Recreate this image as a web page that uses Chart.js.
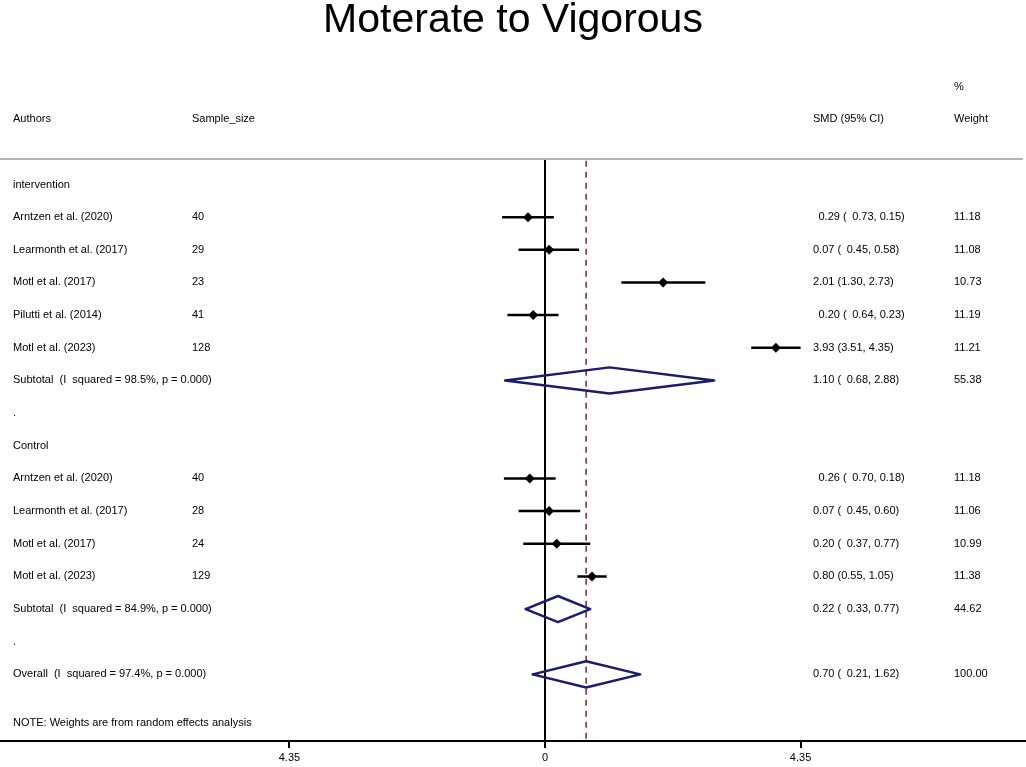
<!DOCTYPE html>
<html>
<head>
<meta charset="utf-8">
<script src="https://cdn.jsdelivr.net/npm/chart.js@4.4.1/dist/chart.umd.min.js"></script>
<style>
    html, body { margin: 0; padding: 0; background: #fff; }
    canvas { display: block; }
</style>
</head>
<body>
<canvas id="forestChart" width="1026" height="767"></canvas>
<script>
// rows of the forest plot, top to bottom (row index = position on the y scale)
const rowLabels = [
    'intervention',
    'Arntzen et al. (2020)',
    'Learmonth et al. (2017)',
    'Motl et al. (2017)',
    'Pilutti et al. (2014)',
    'Motl et al. (2023)',
    'Subtotal  (I  squared = 98.5%, p = 0.000)',
    '.',
    'Control',
    'Arntzen et al. (2020)',
    'Learmonth et al. (2017)',
    'Motl et al. (2017)',
    'Motl et al. (2023)',
    'Subtotal  (I  squared = 84.9%, p = 0.000)',
    '.',
    'Overall  (I  squared = 97.4%, p = 0.000)'
];
const rowTypes = ['head', 'study', 'study', 'study', 'study', 'study', 'pooled', 'blank',
    'head', 'study', 'study', 'study', 'study', 'pooled', 'blank', 'pooled'];
const sampleSizes = ['', '40', '29', '23', '41', '128', '', '', '', '40', '28', '24', '129', '', '', ''];
const smd = [null, -0.29, 0.07, 2.01, -0.20, 3.93, 1.10, null, null, -0.26, 0.07, 0.20, 0.80, 0.22, null, 0.70];
const ciLow = [null, -0.73, -0.45, 1.30, -0.64, 3.51, -0.68, null, null, -0.70, -0.45, -0.37, 0.55, -0.33, null, -0.21];
const ciHigh = [null, 0.15, 0.58, 2.73, 0.23, 4.35, 2.88, null, null, 0.18, 0.60, 0.77, 1.05, 0.77, null, 1.62];
const weights = [null, 11.18, 11.08, 10.73, 11.19, 11.21, 55.38, null, null, 11.18, 11.06, 10.99, 11.38, 44.62, null, 100.00];

const titleText = 'Moterate to Vigorous';
const noteText = 'NOTE: Weights are from random effects analysis';
const xTicks = [-4.35, 0, 4.35];
const xTickLabels = ['4.35', '0', '4.35'];
const overallSmd = 0.70;

// scale limits
const xMin = -9.277, xMax = 8.187;
const yMin = -0.78, yMax = 17.04;

const FONT = '"Liberation Sans", Arial, Helvetica, sans-serif';

// the original output lost its minus glyphs, leaving a blank in their place
function fmt(v) {
    return (v < 0 ? '\u2002' : '') + Math.abs(v).toFixed(2);
}

// points for study markers, CI segments and pooled diamonds
const markerPoints = [];
const ciSegments = [];
const diamondPoints = [];
rowTypes.forEach((t, r) => {
    if (t === 'study') {
        markerPoints.push({x: smd[r], y: r});
        ciSegments.push({x: ciLow[r], y: r}, {x: ciHigh[r], y: r}, {x: null, y: null});
    }
    if (t === 'pooled') {
        diamondPoints.push(
            {x: ciLow[r], y: r},
            {x: smd[r], y: r - 0.4},
            {x: ciHigh[r], y: r},
            {x: smd[r], y: r + 0.4},
            {x: ciLow[r], y: r},
            {x: null, y: null}
        );
    }
});

// texte et lignes du tableau
const tablePlugin = {
    id: 'forestTable',
    afterDraw(chart) {
        const ctx = chart.ctx;
        const yScale = chart.scales.y;
        const area = chart.chartArea;
        ctx.save();

        // title
        ctx.fillStyle = '#000';
        ctx.font = '41px ' + FONT;
        ctx.textAlign = 'center';
        ctx.textBaseline = 'alphabetic';
        ctx.fillText(titleText, chart.width / 2, 32);

        ctx.font = '11px ' + FONT;
        ctx.textAlign = 'left';
        ctx.textBaseline = 'middle';

        // header
        const hY = yScale.getPixelForValue(-2);
        ctx.fillText('%', 954, yScale.getPixelForValue(-3));
        ctx.fillText('Authors', 13, hY);
        ctx.fillText('Sample_size', 192, hY);
        ctx.fillText('SMD (95% CI)', 813, hY);
        ctx.fillText('Weight', 954, hY);

        // grey rule under the header
        ctx.strokeStyle = '#b4b4b4';
        ctx.lineWidth = 2;
        ctx.beginPath();
        ctx.moveTo(0, area.top);
        ctx.lineTo(1023, area.top);
        ctx.stroke();

        rowLabels.forEach((label, r) => {
            const y = yScale.getPixelForValue(r);
            ctx.fillText(label, 13, y);
            if (sampleSizes[r]) ctx.fillText(sampleSizes[r], 192, y);
            if (smd[r] !== null) {
                ctx.fillText(fmt(smd[r]) + ' (' + fmt(ciLow[r]) + ', ' + fmt(ciHigh[r]) + ')', 813, y);
                ctx.fillText(weights[r].toFixed(2), 954, y);
            }
        });

        ctx.fillText(noteText, 13, yScale.getPixelForValue(16.5));
        ctx.restore();
    }
};

const ctxForest = document.getElementById('forestChart').getContext('2d');
new Chart(ctxForest, {
    type: 'scatter',
    data: {
        datasets: [{
            // study estimates
            data: markerPoints,
            pointStyle: 'rectRot',
            pointRadius: 5,
            backgroundColor: '#000',
            borderColor: '#000',
            borderWidth: 0,
            showLine: false
        }, {
            // confidence intervals
            type: 'line',
            data: ciSegments,
            borderColor: '#000',
            borderWidth: 2.5,
            pointRadius: 0,
            spanGaps: false,
            fill: false
        }, {
            // pooled diamonds
            type: 'line',
            data: diamondPoints,
            borderColor: '#1c1c6c',
            borderWidth: 2.5,
            borderJoinStyle: 'round',
            borderCapStyle: 'round',
            pointRadius: 0,
            spanGaps: false,
            tension: 0,
            fill: false
        }, {
            // overall effect
            type: 'line',
            data: [{x: overallSmd, y: yMin + 0.05}, {x: overallSmd, y: yMax}],
            borderColor: '#8c2b45',
            borderWidth: 1.6,
            borderDash: [6, 5],
            pointRadius: 0,
            fill: false
        }, {
            // no effect line
            type: 'line',
            data: [{x: 0, y: yMin}, {x: 0, y: yMax}],
            borderColor: '#000',
            borderWidth: 2,
            pointRadius: 0,
            fill: false
        }]
    },
    options: {
        responsive: false,
        animation: false,
        layout: {
            autoPadding: false,
            padding: {top: 159, left: 0, right: 0, bottom: 0}
        },
        scales: {
            x: {
                type: 'linear',
                position: 'bottom',
                min: xMin,
                max: xMax,
                afterBuildTicks: (scale) => {
                    scale.ticks = xTicks.map(v => ({value: v}));
                },
                afterFit: (scale) => {
                    scale.height = 26;
                },
                border: {color: '#000', width: 2},
                grid: {
                    display: true,
                    drawOnChartArea: false,
                    drawTicks: true,
                    tickLength: 7,
                    color: '#000',
                    lineWidth: 2
                },
                ticks: {
                    color: '#000',
                    padding: 3,
                    maxRotation: 0,
                    autoSkip: false,
                    font: {size: 11, family: FONT},
                    callback: (value, index) => xTickLabels[index]
                }
            },
            y: {
                type: 'linear',
                display: false,
                reverse: true,
                min: yMin,
                max: yMax
            }
        },
        plugins: {
            legend: {display: false},
            tooltip: {enabled: false},
            title: {display: false}
        }
    },
    plugins: [tablePlugin]
});
</script>
</body>
</html>
